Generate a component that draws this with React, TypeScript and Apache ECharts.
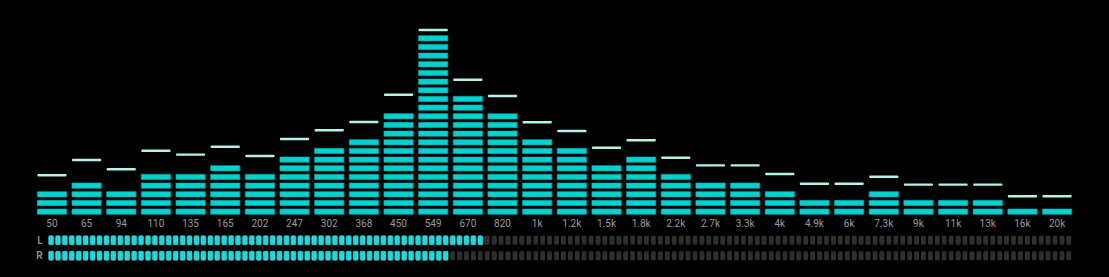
import React, { useEffect, useRef } from "react";
import * as echarts from "echarts";

const bands = ["50","65","94","110","135","165","202","247","302","368","450","549","670","820","1k","1.2k","1.5k","1.8k","2.2k","2.7k","3.3k","4k","4.9k","6k","7.3k","9k","11k","13k","16k","20k"];
const levels = [3,4,3,5,5,6,5,7,8,9,12,21,14,12,9,8,6,7,5,4,4,3,2,2,3,2,2,2,1,1];
const peaks = [4.5,6.27,5.19,7.34,6.88,7.8,6.73,8.69,9.69,10.65,13.8,21.27,15.53,13.65,10.62,9.61,7.68,8.54,6.53,5.65,5.65,4.65,3.53,3.53,4.34,3.42,3.42,3.42,2.08,2.08];
const channels = ["L", "R"];
const meterLit = [63, 58];
const meterTotal = 148;

const SEG = 0.615;
const CELL = 0.679;

export default function App() {
  const ref = useRef<HTMLDivElement>(null);
  useEffect(() => {
    if (!ref.current) return;
    const chart = echarts.init(ref.current, null, { renderer: "svg" });
    chart.setOption({
      animation: false,
      backgroundColor: "#000000",
      grid: [
        { left: 34.6, right: 34.6, top: 6.3, bottom: 62.7 },
        { left: 48.7, width: meterTotal * 6.924, top: 232.6, height: 30.8 },
      ],
      xAxis: [
        {
          type: "category",
          gridIndex: 0,
          data: bands,
          boundaryGap: true,
          axisLine: { show: false },
          axisTick: { show: false },
          splitLine: { show: false },
          axisLabel: { color: "#9a9a9a", fontSize: 10, margin: 4, fontFamily: "Roboto", interval: 0 },
        },
        {
          type: "value",
          gridIndex: 1,
          min: 0,
          max: meterTotal,
          show: false,
        },
      ],
      yAxis: [
        { type: "value", gridIndex: 0, min: 0, max: 24, show: false },
        {
          type: "category",
          gridIndex: 1,
          data: channels,
          inverse: true,
          axisLine: { show: false },
          axisTick: { show: false },
          splitLine: { show: false },
          axisLabel: { color: "#8c8c8c", fontSize: 10, margin: 6, fontFamily: "Roboto", fontWeight: "bold" },
        },
      ],
      series: [
        {
          type: "custom",
          xAxisIndex: 0,
          yAxisIndex: 0,
          data: levels.map((v, i) => [i, v]),
          encode: { x: 0, y: 1 },
          renderItem: (params: any, api: any) => {
            const idx = api.value(0);
            const n = api.value(1);
            const w = api.size([1, 0])[0] * 0.845;
            const cx = api.coord([idx, 0])[0];
            const children: any[] = [];
            for (let k = 0; k < n; k++) {
              const yTop = api.coord([idx, k + SEG])[1];
              const yBot = api.coord([idx, k])[1];
              children.push({
                type: "rect",
                shape: { x: cx - w / 2, y: yTop, width: w, height: yBot - yTop },
                style: { fill: "#00d2cf", stroke: "#00a8a8", lineWidth: 0.6 },
              });
            }
            return { type: "group", children };
          },
        },
        {
          type: "custom",
          xAxisIndex: 0,
          yAxisIndex: 0,
          data: peaks.map((v, i) => [i, v]),
          encode: { x: 0, y: 1 },
          renderItem: (params: any, api: any) => {
            const idx = api.value(0);
            const v = api.value(1);
            const w = api.size([1, 0])[0] * 0.845;
            const c = api.coord([idx, v]);
            return {
              type: "rect",
              shape: { x: c[0] - w / 2, y: c[1] - 1.2, width: w, height: 2.4, r: 1 },
              style: { fill: "#b4f2ec" },
            };
          },
        },
        {
          type: "custom",
          xAxisIndex: 1,
          yAxisIndex: 1,
          data: meterLit.map((v, i) => [v, i]),
          encode: { x: 0, y: 1 },
          renderItem: (params: any, api: any) => {
            const lit = api.value(0);
            const row = api.value(1);
            const cy = api.coord([0, row])[1];
            const h = api.size([0, 1])[1] * 0.58;
            const children: any[] = [];
            for (let i = 0; i < meterTotal; i++) {
              const x0 = api.coord([i, row])[0];
              const x1 = api.coord([i + CELL, row])[0];
              const on = i < lit;
              children.push({
                type: "rect",
                shape: { x: x0, y: cy - h / 2, width: x1 - x0, height: h, r: 1 },
                style: on
                  ? { fill: "#10dde2", stroke: "#5ff0f0", lineWidth: 0.5 }
                  : { fill: "#2f2f2f" },
              });
            }
            return { type: "group", children };
          },
        },
      ],
    });
    return () => chart.dispose();
  }, []);
  return (
    <div
      ref={ref}
      style={{ position: "fixed", left: 0, top: 0, width: 1109, height: 277, background: "#000" }}
    />
  );
}
